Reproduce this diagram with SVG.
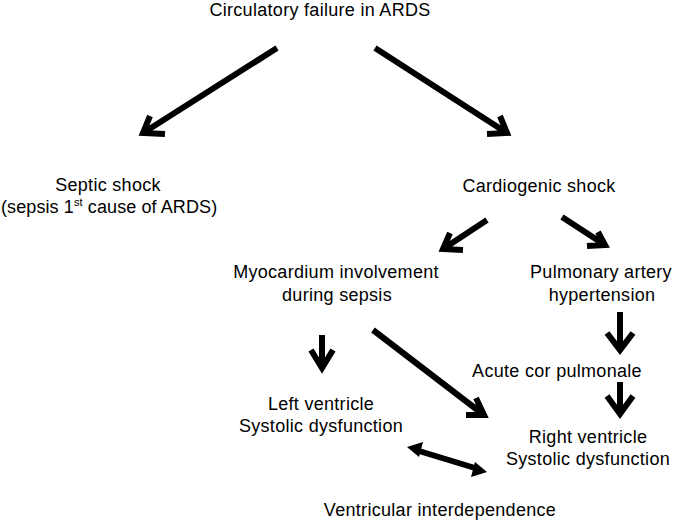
<svg xmlns="http://www.w3.org/2000/svg" width="676" height="524" viewBox="0 0 676 524">
<style>
text{font-family:"Liberation Sans",Arial,sans-serif;font-size:18px;letter-spacing:0.3px;fill:#000;text-anchor:middle}
.c{fill:none;stroke:#000;stroke-width:6;stroke-linecap:butt;stroke-linejoin:miter}
.h{fill:#000;stroke:none}
</style>
<rect width="676" height="524" fill="#fff"/>
<g id="n-circ"><text x="320" y="16">Circulatory failure in ARDS</text></g>
<g id="n-septic"><text x="108" y="191">Septic shock</text><text x="1" y="213" style="text-anchor:start;letter-spacing:0.1px">(sepsis 1<tspan font-size="11" dy="-7">st</tspan><tspan dy="7"> cause of ARDS)</tspan></text></g>
<g id="n-cardio"><text x="539" y="192">Cardiogenic shock</text></g>
<g id="n-myo"><text x="336" y="278">Myocardium involvement</text><text x="337" y="301">during sepsis</text></g>
<g id="n-pah"><text x="601" y="278">Pulmonary artery</text><text x="602" y="301">hypertension</text></g>
<g id="n-acp"><text x="557" y="377">Acute cor pulmonale</text></g>
<g id="n-lv"><text x="321" y="410">Left ventricle</text><text x="321" y="432">Systolic dysfunction</text></g>
<g id="n-rv"><text x="588" y="443">Right ventricle</text><text x="588" y="465">Systolic dysfunction</text></g>
<g id="n-vi"><text x="440" y="516">Ventricular interdependence</text></g>
<g id="connectors">
<path class="c" d="M277 48 L143 133 M150 116 L143 133 L165 134"/>
<path class="c" d="M375 48 L507 133 M500 116 L507 133 L487 134"/>
<path class="c" d="M487 220 L443 249 M450 233 L443 249 L463 250"/>
<path class="c" d="M562 217 L605 245 M598 232 L605 245 L587 246"/>
<path class="c" d="M322 335 L322 368 M311 350 L322 368 L333 350"/>
<path class="c" d="M620 312 L620 350 M607 333 L620 350 L633 333"/>
<path class="c" d="M620 382 L620 414 M607 396 L620 414 L633 396"/>
<path class="c" d="M373 330 L484 415 M476 398 L484 415 L466 415"/>
<path class="c" d="M419 451 L475 468"/>
<path class="h" d="M407 447 L423 442 L419 457 Z"/>
<path class="h" d="M487 472 L471 477 L475 462 Z"/>
</g>
</svg>
